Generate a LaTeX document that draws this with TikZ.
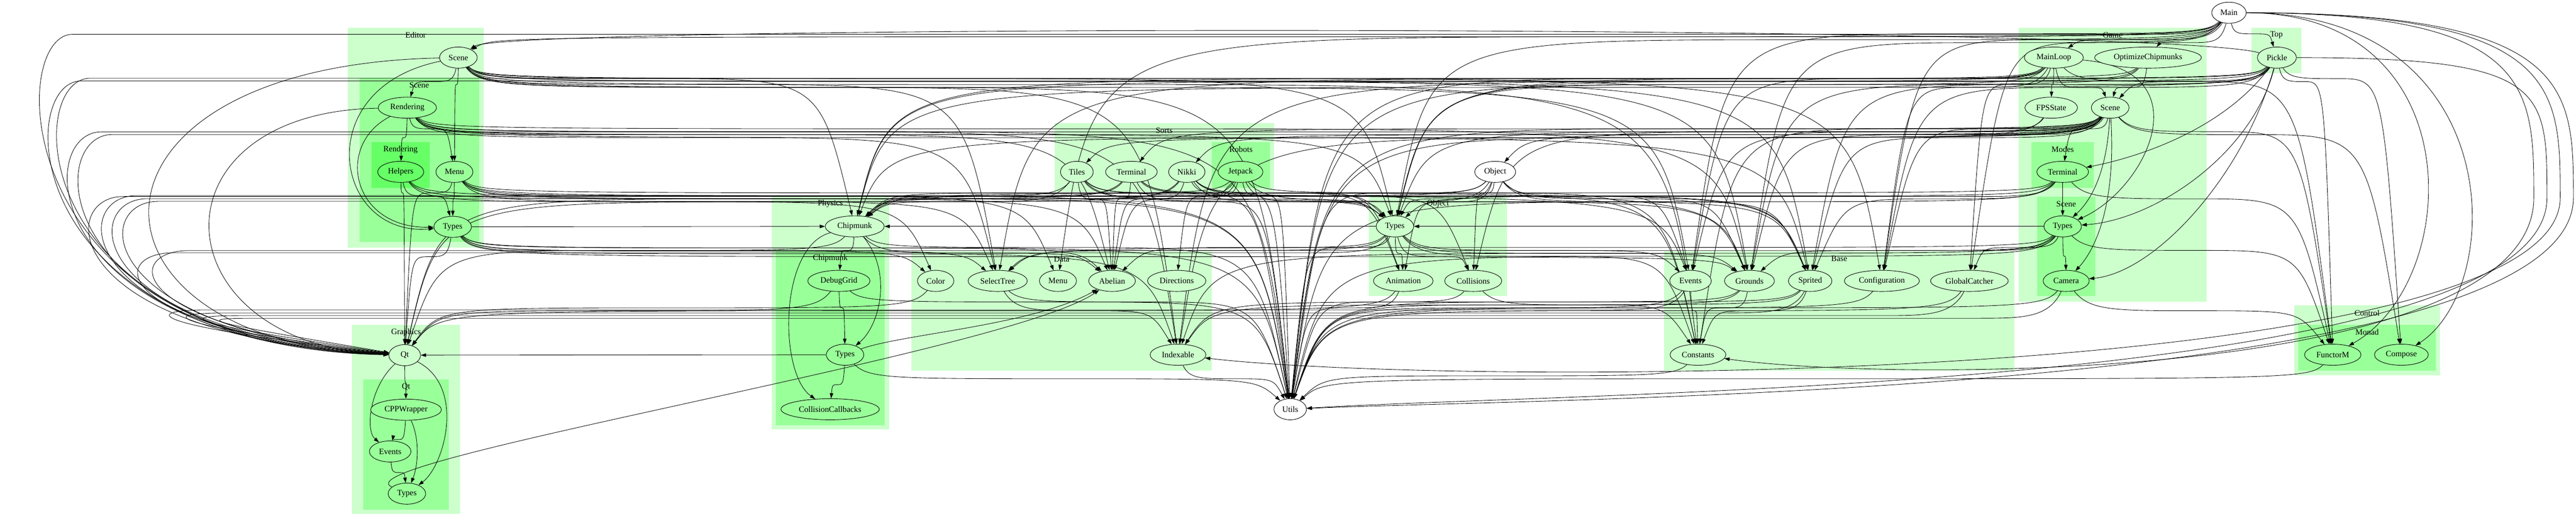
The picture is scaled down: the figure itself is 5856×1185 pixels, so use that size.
\documentclass[tikz,border=0pt]{standalone}
\usepackage{fontspec}
\setmainfont{Liberation Serif}
\usetikzlibrary{arrows.meta,calc,shapes.geometric}

\definecolor{lightgreen}{HTML}{CCFFCC}
\definecolor{midgreen}{HTML}{99FF99}
\definecolor{deepgreen}{HTML}{66FF66}

\pgfdeclarelayer{clusters}
\pgfdeclarelayer{edges}
\pgfsetlayers{clusters,edges,main}

\begin{document}
\begin{tikzpicture}[x=0.75pt,y=-0.75pt,
  mod/.style={draw,ellipse,line width=0.8pt,minimum width=54pt,minimum height=36pt,
    inner xsep=6pt,inner ysep=3pt,font=\fontsize{14}{17}\selectfont},
  modW/.style={mod,fill=white},
  modA/.style={mod,fill=lightgreen},
  modB/.style={mod,fill=midgreen},
  modC/.style={mod,fill=deepgreen},
  clabel/.style={inner sep=0pt,font=\fontsize{14}{17}\selectfont},
  dep/.style={-{Triangle[length=9pt,width=6pt]},line width=0.75pt}]

\useasboundingbox (0,0) rectangle (5856,1185);

% modules outside any package
\node[modW] (main) at (5067,29) {Main};
\node[modW] (object) at (3399,391) {Object};
\node[modW] (utils) at (2933,931) {Utils};

% Editor
\node[modA] (edScene) at (1042,131) {Scene};
\node[modB] (edRendering) at (926,245) {Rendering};
\node[modC] (edHelpers) at (911,391) {Helpers};
\node[modB] (edMenu) at (1033,391) {Menu};
\node[modB] (edTypes) at (1029,516) {Types};

% Graphics
\node[modA] (qt) at (920,808) {Qt};
\node[modB] (qtCPP) at (923,932) {CPPWrapper};
\node[modB] (qtEvents) at (887,1027) {Events};
\node[modB] (qtTypes) at (925,1123) {Types};

% Physics
\node[modA] (chip) at (1943,515) {Chipmunk};
\node[modB] (chipDebug) at (1907,639) {DebugGrid};
\node[modB] (chipTypes) at (1921,807) {Types};
\node[modB] (chipCallbacks) at (1887,931) {CollisionCallbacks};

% Data
\node[modA] (color) at (2127,639) {Color};
\node[modA] (selectTree) at (2268,639) {SelectTree};
\node[modA] (menu) at (2405,639) {Menu};
\node[modA] (abelian) at (2528,639) {Abelian};
\node[modA] (directions) at (2675,639) {Directions};
\node[modA] (indexable) at (2678,807) {Indexable};

% Sorts
\node[modA] (tiles) at (2448,391) {Tiles};
\node[modA] (sortTerminal) at (2572,391) {Terminal};
\node[modA] (nikki) at (2698,391) {Nikki};
\node[modB] (jetpack) at (2820,391) {Jetpack};

% Object
\node[modA] (objTypes) at (3171,515) {Types};
\node[modA] (animation) at (3190,639) {Animation};
\node[modA] (collisions) at (3349,639) {Collisions};

% Base
\node[modA] (events) at (3843,639) {Events};
\node[modA] (grounds) at (3977,639) {Grounds};
\node[modA] (sprited) at (4115,639) {Sprited};
\node[modA] (configuration) at (4278,639) {Configuration};
\node[modA] (globalCatcher) at (4477,639) {GlobalCatcher};
\node[modA] (constants) at (3860,807) {Constants};

% Game
\node[modA] (mainLoop) at (4669,131) {MainLoop};
\node[modA] (optimize) at (4883,131) {OptimizeChipmunks};
\node[modA] (fpsState) at (4663,245) {FPSState};
\node[modA] (gameScene) at (4797,245) {Scene};
\node[modB] (modesTerminal) at (4689,391) {Terminal};
\node[modB] (gsTypes) at (4689,515) {Types};
\node[modB] (camera) at (4697,639) {Camera};

% Top, Control
\node[modA] (pickle) at (5176,131) {Pickle};
\node[modB] (functorM) at (5303,807) {FunctorM};
\node[modB] (compose) at (5459,807) {Compose};

\begin{pgfonlayer}{clusters}
\fill[white] (0,0) rectangle (5856,1185);
\foreach \xa/\ya/\xb/\yb/\col/\txt [count=\i] in {
  790/63/1100/563/lightgreen/Editor, 817/177/1089/551/midgreen/Scene,
  844/323/977/427/deepgreen/Rendering, 800/739/1046/1169/lightgreen/Graphics,
  826/863/1020/1159/midgreen/Qt, 1754/446/2021/977/lightgreen/Physics,
  1764/571/2011/967/midgreen/Chipmunk, 2072/572/2755/843/lightgreen/Data,
  2397/280/2896/437/lightgreen/Sorts, 2755/323/2887/427/midgreen/Robots,
  3112/446/3426/674/lightgreen/Object, 3783/571/4579/843/lightgreen/Base,
  4589/63/5016/686/lightgreen/Game, 4618/323/4760/427/midgreen/Modes,
  4631/447/4763/674/midgreen/Scene, 5118/63/5232/166/lightgreen/Top,
  5215/695/5547/854/lightgreen/Control, 5225/739/5537/843/midgreen/Monad}
{
  \fill[\col] (\xa,\ya) rectangle (\xb,\yb);
  \node[clabel] (cl\i) at ({(\xa+\xb)/2},{\ya+17}) {\txt};
}
\end{pgfonlayer}

\begin{pgfonlayer}{edges}
% imports going down the ranks: drop below the module, run along the gap, drop in
\foreach \a/\b [count=\i] in {edScene/edRendering,edScene/edMenu,edRendering/edHelpers,edRendering/edMenu,
  edHelpers/edTypes,edMenu/edTypes,edScene/utils,edScene/objTypes,edScene/grounds,edScene/selectTree,
  edScene/indexable,edScene/chip,edScene/sprited,edScene/constants,edScene/events,edScene/configuration,
  edRendering/utils,edRendering/objTypes,edRendering/selectTree,edRendering/grounds,edRendering/indexable,
  edRendering/abelian,edRendering/sprited,edHelpers/qt,edHelpers/utils,edHelpers/abelian,edHelpers/color,
  edMenu/qt,edMenu/menu,edMenu/utils,edMenu/selectTree,edMenu/grounds,edMenu/events,edMenu/objTypes,
  edTypes/qt,edTypes/utils,edTypes/selectTree,edTypes/indexable,edTypes/grounds,edTypes/abelian,
  edTypes/color,
  qt/qtCPP,qtCPP/qtEvents,qtEvents/qtTypes,chip/chipDebug,chipDebug/chipTypes,chipTypes/chipCallbacks,
  chip/utils,chip/qt,chip/abelian,chipDebug/qt,chipDebug/utils,chipTypes/utils,color/qt,
  selectTree/indexable,selectTree/utils,indexable/utils,
  tiles/objTypes,tiles/chip,tiles/utils,tiles/sprited,tiles/abelian,tiles/grounds,
  sortTerminal/objTypes,sortTerminal/chip,sortTerminal/qt,sortTerminal/utils,sortTerminal/animation,
  sortTerminal/sprited,sortTerminal/abelian,nikki/objTypes,nikki/animation,nikki/collisions,nikki/chip,
  nikki/qt,nikki/utils,nikki/constants,nikki/abelian,jetpack/objTypes,jetpack/chip,
  jetpack/utils,jetpack/abelian,jetpack/sprited,jetpack/constants,jetpack/directions,
  object/objTypes,object/animation,object/collisions,object/events,object/grounds,object/sprited,
  object/utils,object/chip,objTypes/animation,objTypes/collisions,objTypes/utils,
  objTypes/events,objTypes/grounds,objTypes/constants,objTypes/abelian,objTypes/selectTree,
  animation/utils,animation/qt,collisions/utils,collisions/constants,events/utils,
  events/constants,grounds/indexable,grounds/utils,grounds/constants,sprited/constants,
  sprited/utils,sprited/indexable,configuration/utils,globalCatcher/utils,
  constants/utils,functorM/utils,
  mainLoop/fpsState,mainLoop/gameScene,mainLoop/utils,mainLoop/chip,mainLoop/objTypes,
  mainLoop/configuration,mainLoop/events,mainLoop/functorM,mainLoop/globalCatcher,optimize/gameScene,
  optimize/chip,optimize/objTypes,optimize/utils,fpsState/utils,gameScene/modesTerminal,
  gameScene/objTypes,gameScene/object,gameScene/chip,gameScene/utils,gameScene/events,gameScene/grounds,
  gameScene/sprited,gameScene/configuration,gameScene/functorM,gameScene/compose,gameScene/indexable,
  gameScene/constants,gameScene/collisions,gameScene/nikki,gameScene/tiles,gameScene/sortTerminal,
  modesTerminal/gsTypes,modesTerminal/functorM,modesTerminal/utils,modesTerminal/chip,
  modesTerminal/objTypes,modesTerminal/sprited,gsTypes/camera,gsTypes/globalCatcher,gsTypes/grounds,
  gsTypes/indexable,gsTypes/utils,gsTypes/selectTree,gsTypes/functorM,camera/utils,camera/functorM,
  pickle/objTypes,pickle/functorM,pickle/grounds,pickle/configuration,pickle/selectTree,
  pickle/indexable,pickle/sprited,pickle/chip,pickle/compose,pickle/gameScene,
  main/mainLoop,main/optimize,main/pickle,main/edScene,main/configuration,main/globalCatcher,
  main/events,main/menu,main/objTypes,main/grounds}
  \draw[dep] let \p1=(\a), \p2=(\b) in
    (\a) .. controls ({\x1+max(-40pt,min(40pt,0.1*(\x2-\x1)))},{\y1-36pt-5pt*mod(\i,4)})
      and ({\x1+max(-80pt,min(80pt,0.2*(\x2-\x1)))},{\y1-36pt-5pt*mod(\i,4)})
      .. ({0.5*(\x1+\x2)},{\y1-36pt-5pt*mod(\i,4)})
      .. controls ({\x2+max(-60pt,min(60pt,0.15*(\x1-\x2)))},{\y1-36pt-5pt*mod(\i,4)})
      and ({\x2+max(-60pt,min(60pt,0.15*(\x1-\x2)))},{\y1-36pt-5pt*mod(\i,4)}) .. (\b);

% imports inside one rank
\foreach \a/\b in {objTypes/chip,gsTypes/objTypes,edTypes/chip,chipTypes/qt}
  \draw[dep] (\a) -- (\b);

% long ones into Qt, round the left edge
\foreach \a/\sx/\Y/\X/\W in {main/5067/78/15/790,pickle/5176/184/35/785,mainLoop/4669/178/55/780,
  fpsState/4663/300/80/775,gameScene/4797/306/105/770,modesTerminal/4689/447/130/765,
  tiles/2448/445/160/760,jetpack/2820/452/185/756,object/3399/458/210/752,objTypes/3171/575/245/748,
  gsTypes/4689/570/280/744,events/3843/705/320/740,sprited/4115/712/360/736,
  globalCatcher/4477/718/400/732,camera/4697/724/440/728}
  \draw[dep] (\a) .. controls (\sx-40,\Y) and (\sx-100,\Y) .. (\sx-200,\Y) -- (\X+150,\Y)
    .. controls (\X,\Y) and (\X,\W) .. (qt);

% long ones round the right edge
\foreach \a/\b/\sy/\X/\Y/\Z in {main/utils/29/5850/905/3500,pickle/utils/131/5790/890/3600,
  main/indexable/29/5820/880/3300,main/constants/29/5760/870/4300}
  \draw[dep] (\a) .. controls (\X,\sy) and (\X,200) .. (\X,450) .. controls (\X,\Y) and (\Z,\Y) .. (\b);
\draw[dep] (main) .. controls (5700,29) and (5700,650) .. (compose);
\draw[dep] (main) .. controls (5620,29) and (5600,640) .. (functorM);

% hand routed
\draw[dep] (pickle) .. controls (4900,55) and (1150,55) .. (edScene);
\draw[dep] (pickle) .. controls (5050,300) and (4850,360) .. (modesTerminal);
\draw[dep] (pickle) .. controls (5120,350) and (4900,500) .. (gsTypes);
\draw[dep] (pickle) .. controls (5100,400) and (4900,620) .. (camera);
\draw[dep] (mainLoop) .. controls (5010,160) and (4880,430) .. (gsTypes);
\draw[dep] (gameScene) .. controls (4790,380) and (4760,450) .. (gsTypes);
\draw[dep] (gameScene) .. controls (4810,450) and (4770,560) .. (camera);
\draw[dep] (edScene) .. controls (130,150) and (150,780) .. (qt);
\draw[dep] (edRendering) .. controls (330,255) and (360,785) .. (qt);
\draw[dep] (edScene) .. controls (700,200) and (760,540) .. (edTypes);
\draw[dep] (edRendering) .. controls (760,330) and (800,520) .. (edTypes);
\draw[dep] (qt) .. controls (840,880) and (830,980) .. (qtEvents);
\draw[dep] (qt) .. controls (1060,880) and (1010,1060) .. (qtTypes);
\draw[dep] (qtCPP) .. controls (955,1000) and (950,1060) .. (qtTypes);
\draw[dep] (chip) .. controls (2030,620) and (2000,740) .. (chipTypes);
\draw[dep] (chip) .. controls (1770,560) and (1770,850) .. (chipCallbacks);
\draw[dep] (qtTypes) .. controls (760,1050) and (2300,800) .. (abelian);
\draw[dep] (chipTypes) .. controls (2050,760) and (2350,740) .. (abelian);
\end{pgfonlayer}
\end{tikzpicture}
\end{document}
